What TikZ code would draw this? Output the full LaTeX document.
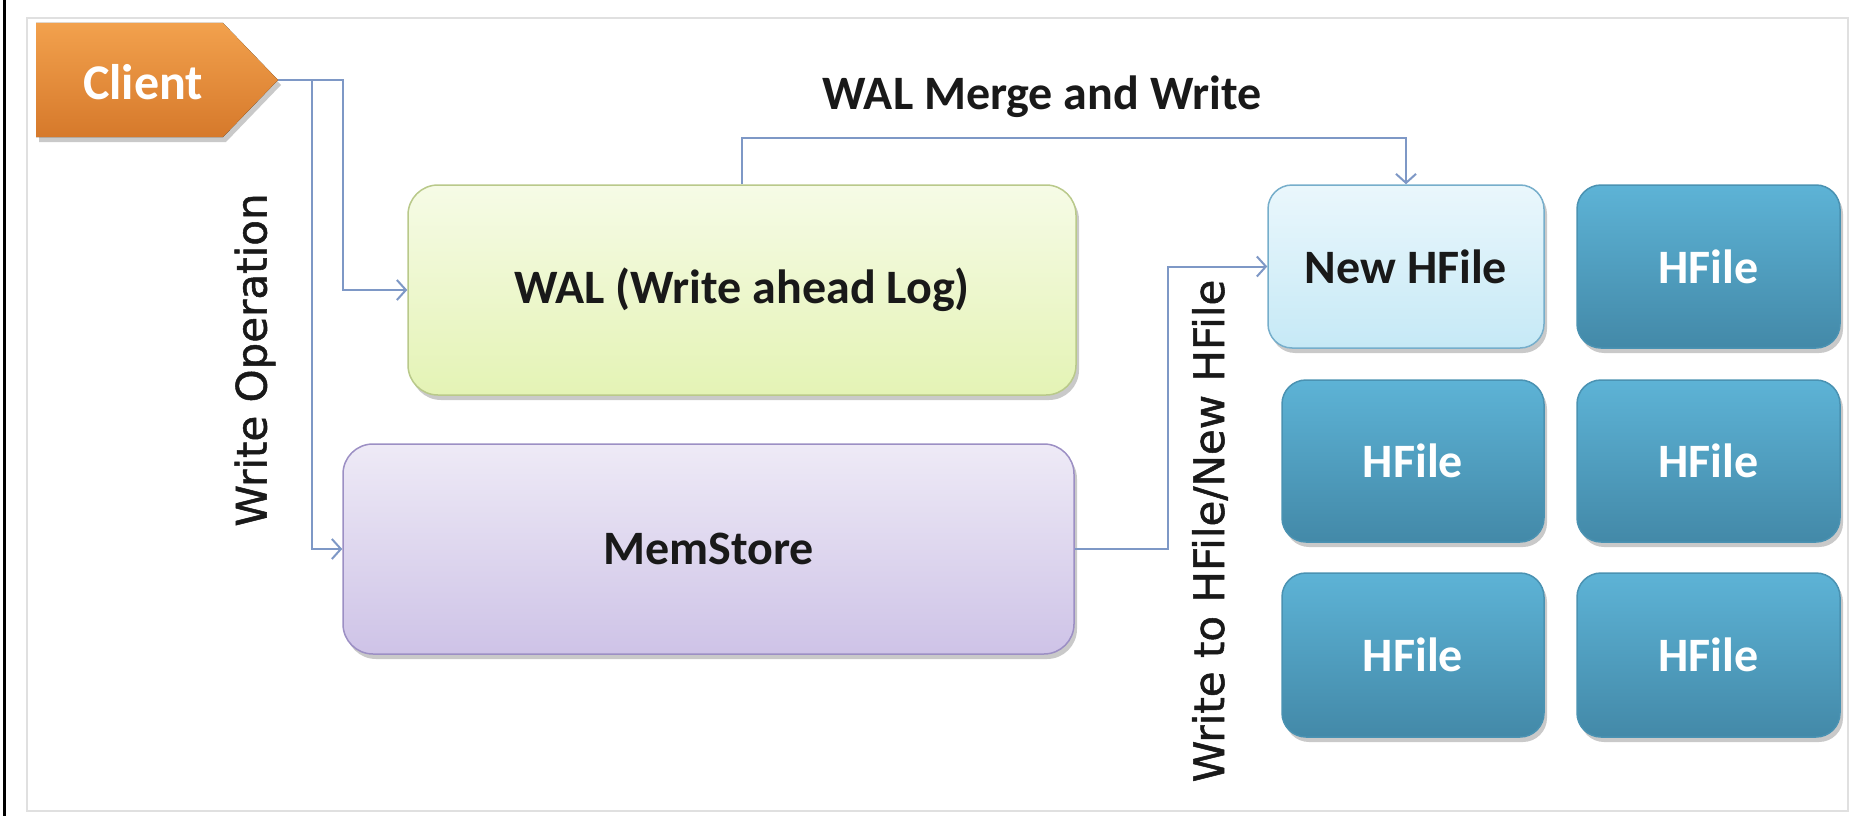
\documentclass[tikz,border=0pt]{standalone}
\usepackage{fontspec}
\setmainfont{Carlito}
\newfontfamily\rotfont[FakeBold=1.2]{DejaVu Sans}
\usetikzlibrary{arrows.meta,shadows}
\definecolor{conn}{HTML}{7E98C6}
\definecolor{clientA}{HTML}{F2A14D}
\definecolor{clientB}{HTML}{D6792B}
\definecolor{walA}{HTML}{F6FBE6}
\definecolor{walB}{HTML}{E4F3B5}
\definecolor{walD}{HTML}{B9C98A}
\definecolor{memA}{HTML}{EEEAF6}
\definecolor{memB}{HTML}{CEC3E7}
\definecolor{memD}{HTML}{9C8FC4}
\definecolor{nhA}{HTML}{EAF7FC}
\definecolor{nhB}{HTML}{C6E9F6}
\definecolor{nhD}{HTML}{76AECB}
\definecolor{hfA}{HTML}{5DB3D6}
\definecolor{hfB}{HTML}{4389A8}
\definecolor{hfD}{HTML}{4A92B2}
\tikzset{
  shad/.style={drop shadow={shadow xshift=3pt,shadow yshift=-5pt,opacity=0.35,fill=black!60}},
  bigbox/.style={rounded corners=30pt, line width=1.5pt, inner sep=0pt, shad, font=\fontsize{48}{56}\selectfont\bfseries, text=black!90},
  walbox/.style={bigbox, draw=walD, top color=walA, bottom color=walB},
  membox/.style={bigbox, draw=memD, top color=memA, bottom color=memB},
  newbox/.style={bigbox, rounded corners=24pt, draw=nhD, top color=nhA, bottom color=nhB},
  hbox/.style={bigbox, rounded corners=24pt, draw=hfD, top color=hfA, bottom color=hfB, text=white},
  conline/.style={draw=conn, line width=2pt, -{Straight Barb[length=9pt,width=20pt,line width=2pt]}},
  plainline/.style={draw=conn, line width=2pt},
  lbl/.style={font=\fontsize{48}{56}\selectfont\bfseries, text=black!90, inner sep=0pt},
  rotlbl/.style={font=\rotfont\fontsize{42}{50}\selectfont, text=black!90, inner sep=0pt, rotate=90}
}
\begin{document}
\begin{tikzpicture}[x=1pt,y=-1pt]
\useasboundingbox (0,0) rectangle (1856,816);
\fill[white] (0,0) rectangle (1856,816);
\draw[black, line width=3pt] (4,0) -- (4,816);
\draw[black!12, line width=1.5pt] (27,18) rectangle (1848,811);
% client
\fill[shad, top color=clientA, bottom color=clientB] (36,23) -- (223,23) -- (278,80) -- (223,137) -- (36,137) -- cycle;
\coordinate (clienttip) at (278,80);
\coordinate (branch) at (312,80);
\node[lbl, text=white, font=\fontsize{50}{58}\selectfont\bfseries] (client) at (143,82) {Client};
% boxes
\node[walbox, minimum width=668pt, minimum height=210pt] (wal) at (742,290) {WAL (Write ahead Log)};
\node[membox, minimum width=731pt, minimum height=210pt] (mem) at (708.5,549) {MemStore};
\node[newbox, minimum width=276pt, minimum height=163pt] (newh) at (1406,266.5) {New HFile};
\node[hbox, minimum width=263pt, minimum height=163pt] (h1) at (1708.5,266.5) {HFile};
\node[hbox, minimum width=262pt, minimum height=162pt] (h2) at (1413,461) {HFile};
\node[hbox, minimum width=263pt, minimum height=162pt] (h3) at (1708.5,461) {HFile};
\node[hbox, minimum width=262pt, minimum height=164pt] (h4) at (1413,655) {HFile};
\node[hbox, minimum width=263pt, minimum height=164pt] (h5) at (1708.5,655) {HFile};
% connectors
\draw[plainline] (clienttip) -- (branch);
\draw[conline] (clienttip) -- (343,80) |- (wal.west);
\draw[conline] (branch) |- (mem.west);
\draw[conline] (wal.north) |- (1000,138) -| (newh.north);
\draw[conline] (mem.east) -- (1168,549) |- (newh.west);
% labels
\node[lbl] (merge) at (1042,97) {WAL Merge and Write};
\node[rotlbl] (wop) at (255,360) {Write Operation};
\node[rotlbl] (wto) at (1210,531) {Write to HFile/New HFile};
\end{tikzpicture}
\end{document}
